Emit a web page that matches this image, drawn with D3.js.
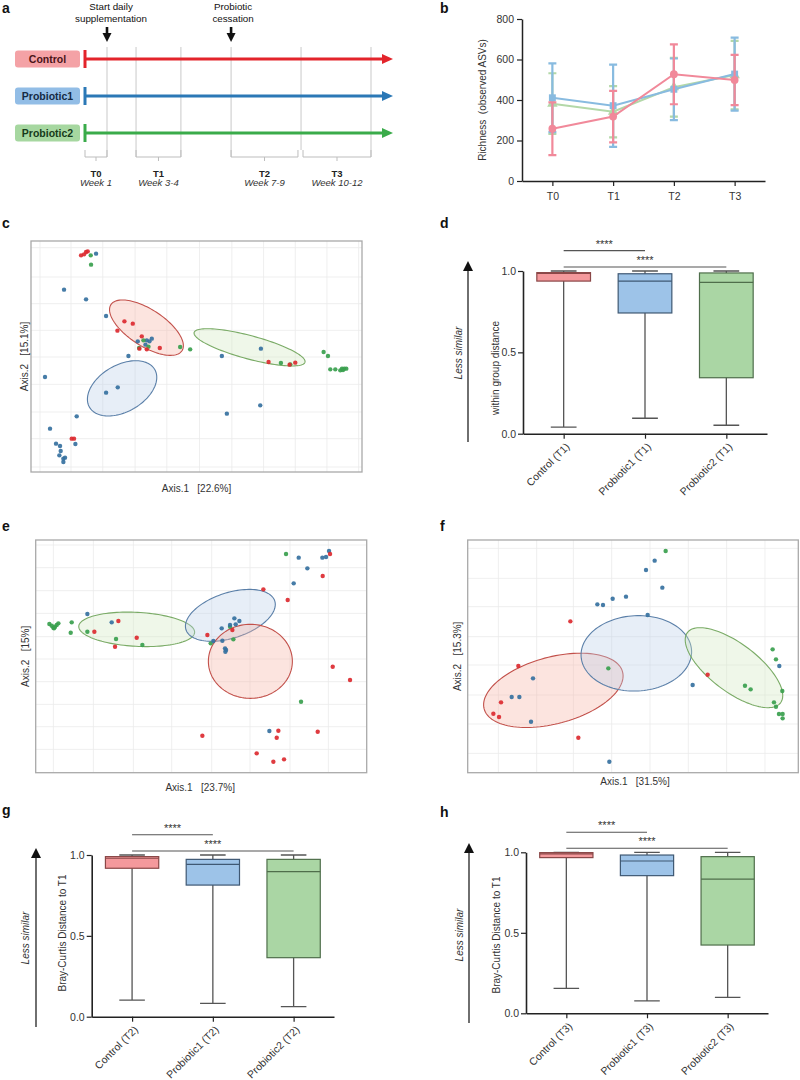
<!DOCTYPE html>
<html><head><meta charset="utf-8">
<script src="https://cdn.jsdelivr.net/npm/d3@7"></script>
<style>body{margin:0;background:#fff} svg{font-family:"Liberation Sans",Arial,sans-serif}</style>
</head><body><svg id="fig" width="800" height="1080"></svg>
<script>
// ================= DATA =================
// Panel a : study timeline (schematic, in weeks)
const tlGroups = ["Control", "Probiotic1", "Probiotic2"];
const periodLabels = ["T0", "T1", "T2", "T3"];
const periodWeeks = ["Week 1", "Week 3-4", "Week 7-9", "Week 10-12"];
const periodStart = [0, 2.32, 6.64, 9.91];
const periodEnd = [1, 4.36, 9.68, 13.0];
const guideWeeks = [1, 2.32, 4.36, 6.64, 9.82, 13.0];
const eventText = [["Start daily", "supplementation"], ["Probiotic", "cessation"]];
const eventWeek = [1, 6.64];

// Panel b : richness (observed ASVs), mean and SD
const timepoints = ["T0", "T1", "T2", "T3"];
const richTicks = [0, 200, 400, 600, 800];
const richControl = [258, 318, 527, 499];
const richControlSD = [130, 127, 148, 124];
const richP1 = [411, 372, 453, 528];
const richP1SD = [170, 203, 152, 180];
const richP2 = [382, 342, 463, 523];
const richP2SD = [150, 127, 145, 169];

// Panel c : PCoA (T1)
const cRed = [[-0.347,0.305],[-0.338,0.308],[-0.332,0.315],[-0.327,0.317],[-0.375,-0.245],[-0.368,-0.245],[-0.217,0.107],[-0.192,0.100],[-0.238,0.079],[-0.172,0.025],[-0.150,0.023],[-0.111,0.027],[-0.165,0.062],[0.215,-0.015],[0.278,-0.023],[0.295,-0.017]];
const cGreen = [[-0.318,0.305],[-0.317,0.277],[-0.173,0.027],[-0.145,0.031],[-0.050,0.030],[-0.020,0.023],[0.252,-0.018],[0.280,-0.022],[0.380,0.015],[0.393,0.003],[0.400,-0.037],[0.415,-0.037],[0.430,-0.040],[0.435,-0.035],[0.442,-0.035],[0.448,-0.035],[0.438,-0.039],[-0.160,0.050]];
const cBlue = [[-0.302,0.310],[-0.398,0.202],[-0.332,0.173],[-0.272,0.123],[-0.177,0.047],[-0.150,0.050],[-0.142,0.047],[-0.135,0.055],[-0.154,0.037],[-0.205,0.003],[-0.272,-0.107],[-0.237,-0.091],[-0.455,-0.060],[-0.360,-0.178],[-0.440,-0.215],[-0.422,-0.260],[-0.410,-0.267],[-0.408,-0.282],[-0.412,-0.295],[-0.400,-0.305],[-0.395,-0.302],[-0.400,-0.315],[-0.364,-0.261],[0.075,0.003],[0.090,-0.170],[0.190,-0.145],[0.192,0.025]];
// ellipses: [cx, cy, semi-major, semi-minor, angle(deg, counter-clockwise)]
const cEllRed = [-0.151, 0.088, 0.127, 0.055, -33];
const cEllGreen = [0.158, 0.029, 0.172, 0.035, -15];
const cEllBlue = [-0.224, -0.094, 0.113, 0.070, 30];
const cGridX = [-0.47,-0.377,-0.282,-0.185,-0.09,0.008,0.105,0.2,0.295,0.39,0.485];
const cGridY = [0.328,0.24,0.16,0.08,0,-0.082,-0.165,-0.245,-0.33];

// Panel e : PCoA (T2)
const eRed = [[-0.245,0.112],[-0.317,0.080],[-0.255,0.035],[-0.190,0.062],[0.022,0.070],[0.097,0.085],[0.190,0.207],[0.263,0.175],[0.368,0.247],[0.390,0.313],[0.398,-0.025],[0.450,-0.065],[0.007,-0.232],[0.235,-0.217],[0.230,-0.238],[0.353,-0.220],[0.170,-0.285],[0.220,-0.310],[0.252,-0.303]];
const eGreen = [[-0.452,0.103],[-0.445,0.098],[-0.440,0.092],[-0.435,0.095],[-0.430,0.100],[-0.425,0.105],[-0.438,0.090],[-0.385,0.108],[-0.388,0.077],[-0.338,0.080],[-0.252,0.058],[-0.173,0.040],[0.032,0.045],[0.090,0.095],[0.100,0.057],[0.258,0.313],[0.303,-0.130]];
const eBlue = [[-0.338,0.133],[-0.265,0.108],[0.065,0.090],[0.103,0.120],[0.118,0.112],[0.107,0.102],[0.090,0.100],[0.040,0.052],[0.067,0.053],[0.075,0.030],[0.078,0.025],[0.076,0.020],[0.296,0.302],[0.322,0.270],[0.281,0.225],[0.367,0.302],[0.378,0.304],[0.387,0.322],[0.208,-0.218]];
const eEllGreen = [-0.190, 0.087, 0.174, 0.051, -3];
const eEllBlue = [0.091, 0.129, 0.140, 0.068, 18];
const eEllRed = [0.151, -0.009, 0.126, 0.111, 0];
const eGridX = [-0.44,-0.32,-0.2,-0.085,0.035,0.15,0.27,0.385];
const eGridY = [0.34,0.272,0.203,0.135,0.065,-0.002,-0.07,-0.138,-0.205,-0.273];

// Panel f : PCoA (T3)
const fRed = [[-0.189,0.111],[-0.345,-0.023],[-0.397,-0.132],[-0.420,-0.166],[-0.403,-0.176],[-0.165,-0.238],[0.223,-0.049]];
const fGreen = [[0.097,0.322],[-0.075,-0.030],[0.418,0.027],[0.428,-0.003],[0.335,-0.082],[0.352,-0.093],[0.447,-0.098],[0.422,-0.132],[0.428,-0.145],[0.437,-0.167],[0.448,-0.167],[0.448,-0.180]];
const fBlue = [[0.038,0.265],[0.064,0.293],[0.087,0.212],[-0.062,0.179],[-0.022,0.185],[-0.108,0.162],[-0.091,0.160],[0.043,0.130],[0.178,-0.080],[0.438,-0.023],[-0.301,-0.060],[-0.365,-0.116],[-0.342,-0.116],[-0.307,-0.190],[-0.072,-0.310]];
const fEllRed = [-0.240, -0.096, 0.215, 0.100, 15];
const fEllBlue = [0.009, 0.015, 0.166, 0.113, 3];
const fEllGreen = [0.302, -0.028, 0.175, 0.072, -37];
const fGridX = [-0.405,-0.29,-0.18,-0.065,0.05,0.165,0.28,0.395];
const fGridY = [0.33,0.24,0.155,0.065,-0.02,-0.11,-0.197,-0.285];

// Box plots: [min, Q1, median, Q3, max]
const boxTicks = [0, 0.5, 1.0];
const dCats = ["Control (T1)", "Probiotic1 (T1)", "Probiotic2 (T1)"];
const dStats = [[0.04,0.938,0.985,0.99,1.0],[0.095,0.742,0.938,0.983,1.0],[0.052,0.344,0.93,0.988,1.0]];
const gCats = ["Control (T2)", "Probiotic1 (T2)", "Probiotic2 (T2)"];
const gStats = [[0.103,0.918,0.98,0.99,1.0],[0.082,0.814,0.942,0.973,1.0],[0.062,0.365,0.897,0.973,1.0]];
const hCats = ["Control (T3)", "Probiotic1 (T3)", "Probiotic2 (T3)"];
const hStats = [[0.155,0.967,0.99,0.998,1.0],[0.077,0.855,0.946,0.983,1.0],[0.099,0.424,0.834,0.973,1.0]];
const sigLabel = "****";

// ================= DRAWING =================
const svg = d3.select("#fig");

function panelLabel(t, x, y) {
  svg.append("text").attr("x", x).attr("y", y).attr("font-size", 14)
    .attr("font-weight", "bold").attr("fill", "#111").text(t);
}

// ---------- Panel a ----------
(function () {
  const g = svg.append("g");
  const tx = d3.scaleLinear().domain([0, 14]).range([85, 393]);
  const gy = d3.scalePoint().domain(tlGroups).range([59, 133]);
  const boxFill = ["#f4a2a6", "#92bde6", "#a6d7a0"];
  const lineCol = ["#e3242b", "#2b78b6", "#3aab4a"];
  const textCol = ["#4a1418", "#152a44", "#173a1a"];

  guideWeeks.forEach((w) => {
    g.append("line").attr("x1", tx(w)).attr("x2", tx(w)).attr("y1", 47)
      .attr("y2", Math.abs(w - 9.82) < 0.01 ? 150 : 157)
      .attr("stroke", "#c9c9c9").attr("stroke-width", 1);
  });
  periodLabels.forEach((p, i) => {
    const s = tx(periodStart[i]), e = tx(periodEnd[i]), m = (s + e) / 2;
    g.append("path").attr("d", `M${s},150V157H${e}V150M${m},157V161`)
      .attr("fill", "none").attr("stroke", "#bdbdbd").attr("stroke-width", 1);
    g.append("text").attr("x", m).attr("y", 176.5).attr("text-anchor", "middle")
      .attr("font-size", 9.5).attr("font-weight", "bold").attr("fill", "#222").text(p);
    g.append("text").attr("x", m).attr("y", 185.5).attr("text-anchor", "middle")
      .attr("font-size", 9.5).attr("font-style", "italic").attr("fill", "#333").text(periodWeeks[i]);
  });
  eventText.forEach((lines, i) => {
    const x = tx(eventWeek[i]);
    const cx = x + (i === 0 ? 4 : 2);
    lines.forEach((l, j) => {
      g.append("text").attr("x", cx).attr("y", 10 + j * 11.5).attr("text-anchor", "middle")
        .attr("font-size", 9.8).attr("fill", "#111").text(l);
    });
    g.append("line").attr("x1", x).attr("x2", x).attr("y1", 27).attr("y2", 35)
      .attr("stroke", "#111").attr("stroke-width", 2.6);
    g.append("path").attr("d", `M${x - 4.5},33L${x + 4.5},33L${x},42Z`).attr("fill", "#111");
  });
  tlGroups.forEach((grp, i) => {
    const y = gy(grp);
    g.append("rect").attr("x", 15).attr("y", y - 8.5).attr("width", 65).attr("height", 17)
      .attr("rx", 3).attr("fill", boxFill[i]);
    g.append("text").attr("x", 47.5).attr("y", y + 4).attr("text-anchor", "middle")
      .attr("font-size", 10.5).attr("font-weight", "bold").attr("fill", textCol[i]).text(grp);
    g.append("line").attr("x1", tx(0)).attr("x2", tx(14) - 8).attr("y1", y).attr("y2", y)
      .attr("stroke", lineCol[i]).attr("stroke-width", 3);
    g.append("line").attr("x1", tx(0)).attr("x2", tx(0)).attr("y1", y - 9).attr("y2", y + 9)
      .attr("stroke", lineCol[i]).attr("stroke-width", 3);
    g.append("path").attr("d", `M${tx(14) - 11},${y - 5}L${tx(14)},${y}L${tx(14) - 11},${y + 5}Z`)
      .attr("fill", lineCol[i]);
  });
})();
panelLabel("a", 2, 13);

// ---------- Panel b ----------
(function () {
  const g = svg.append("g");
  const x = d3.scalePoint().domain(timepoints).range([522, 765]).padding(0.5);
  const y = d3.scaleLinear().domain([0, 800]).range([181, 19]);
  const ax = g.append("g").attr("transform", "translate(0,181)")
    .call(d3.axisBottom(x).tickSize(5).tickPadding(7).tickSizeOuter(0));
  const ay = g.append("g").attr("transform", "translate(522,0)")
    .call(d3.axisLeft(y).tickValues(richTicks).tickSize(5).tickPadding(3).tickSizeOuter(0));
  [ax, ay].forEach(a => {
    a.select(".domain").attr("stroke", "#222").attr("stroke-width", 1.5);
    a.selectAll(".tick line").attr("stroke", "#222").attr("stroke-width", 1.2);
    a.selectAll("text").attr("font-size", 10.5).attr("fill", "#333").attr("font-family", '"Liberation Sans",Arial,sans-serif');
  });
  g.append("text").attr("transform", "translate(486,100) rotate(-90)").attr("text-anchor", "middle")
    .attr("font-size", 10).attr("fill", "#333").text("Richness\u00a0\u00a0(observed ASVs)");

  const series = [
    { m: richP2, sd: richP2SD, col: "#b3d8a8", shape: d3.symbolTriangle },
    { m: richP1, sd: richP1SD, col: "#88bbe0", shape: d3.symbolSquare },
    { m: richControl, sd: richControlSD, col: "#f1899a", shape: d3.symbolCircle }
  ];
  series.forEach(s => {
    const pts = timepoints.map((t, i) => [x(t), y(s.m[i])]);
    g.append("path").attr("d", d3.line()(pts)).attr("fill", "none")
      .attr("stroke", s.col).attr("stroke-width", 2);
    timepoints.forEach((t, i) => {
      const cx = x(t), lo = y(s.m[i] - s.sd[i]), hi = y(s.m[i] + s.sd[i]);
      g.append("path").attr("d", `M${cx},${lo}V${hi}M${cx - 4},${lo}H${cx + 4}M${cx - 4},${hi}H${cx + 4}`)
        .attr("stroke", s.col).attr("stroke-width", 2.2).attr("fill", "none");
      g.append("path").attr("d", d3.symbol().type(s.shape).size(48)())
        .attr("transform", `translate(${cx},${y(s.m[i])})`).attr("fill", s.col);
    });
  });
})();
panelLabel("b", 440, 13);

// ---------- Scatter panels ----------
function ellipsePts(e, x, y) {
  const [cx, cy, a, b, ang] = e;
  const p = ang * Math.PI / 180;
  return d3.range(0, 361, 3).map(t => {
    const r = t * Math.PI / 180;
    const dx = a * Math.cos(r) * Math.cos(p) - b * Math.sin(r) * Math.sin(p);
    const dy = a * Math.cos(r) * Math.sin(p) + b * Math.sin(r) * Math.cos(p);
    return [x(cx + dx), y(cy + dy)];
  });
}
function scatterPanel(o) {
  const g = svg.append("g");
  const x = d3.scaleLinear().domain(o.xDom).range([o.left, o.right]);
  const y = d3.scaleLinear().domain(o.yDom).range([o.bottom, o.top]);
  g.append("rect").attr("x", o.left).attr("y", o.top).attr("width", o.right - o.left)
    .attr("height", o.bottom - o.top).attr("fill", "#fff");
  o.gridX.forEach(v => g.append("line").attr("x1", x(v)).attr("x2", x(v)).attr("y1", o.top).attr("y2", o.bottom)
    .attr("stroke", "#ebebeb").attr("stroke-width", 0.8));
  o.gridY.forEach(v => g.append("line").attr("y1", y(v)).attr("y2", y(v)).attr("x1", o.left).attr("x2", o.right)
    .attr("stroke", "#ebebeb").attr("stroke-width", 0.8));
  const ellStyle = {
    red: { fill: "#f6b3a3", stroke: "#c2504a" },
    blue: { fill: "#b9cfe9", stroke: "#5a7fa8" },
    green: { fill: "#d2e7bf", stroke: "#7aab66" }
  };
  const line = d3.line().curve(d3.curveLinearClosed);
  o.ells.forEach(([key, e]) => {
    g.append("path").attr("d", line(ellipsePts(e, x, y)))
      .attr("fill", ellStyle[key].fill).attr("fill-opacity", 0.35)
      .attr("stroke", ellStyle[key].stroke).attr("stroke-width", 1.1);
  });
  const ptCol = { red: "#dc2a30", blue: "#36719f", green: "#3aa04e" };
  o.pts.forEach(([key, arr]) => {
    g.selectAll(null).data(arr).enter().append("circle")
      .attr("cx", d => x(d[0])).attr("cy", d => y(d[1])).attr("r", 2.2)
      .attr("fill", ptCol[key]).attr("fill-opacity", 0.92);
  });
  g.append("rect").attr("x", o.left).attr("y", o.top).attr("width", o.right - o.left)
    .attr("height", o.bottom - o.top).attr("fill", "none").attr("stroke", "#a9a9a9").attr("stroke-width", 1.3);
  g.append("text").attr("x", (o.left + o.right) / 2 + o.xlabDx).attr("y", o.xlabY).attr("text-anchor", "middle")
    .attr("font-size", 10).attr("fill", "#333").text(o.xlab);
  g.append("text").attr("transform", `translate(${o.ylabX},${(o.top + o.bottom) / 2}) rotate(-90)`)
    .attr("text-anchor", "middle").attr("font-size", 10).attr("fill", "#333").text(o.ylab);
}
scatterPanel({
  left: 31, right: 362, top: 241, bottom: 472, xDom: [-0.497, 0.495], yDom: [-0.345, 0.348],
  gridX: cGridX, gridY: cGridY,
  ells: [["blue", cEllBlue], ["red", cEllRed], ["green", cEllGreen]],
  pts: [["blue", cBlue], ["green", cGreen], ["red", cRed]],
  xlab: "Axis.1\u00a0\u00a0\u00a0[22.6%]", xlabY: 492, xlabDx: 0,
  ylab: "Axis.2\u00a0\u00a0\u00a0[15.1%]", ylabX: 28
});
panelLabel("c", 2, 228);
scatterPanel({
  left: 35.7, right: 366.7, top: 540, bottom: 772.7, xDom: [-0.493, 0.5], yDom: [-0.343, 0.355],
  gridX: eGridX, gridY: eGridY,
  ells: [["green", eEllGreen], ["blue", eEllBlue], ["red", eEllRed]],
  pts: [["green", eGreen], ["blue", eBlue], ["red", eRed]],
  xlab: "Axis.1\u00a0\u00a0\u00a0[23.7%]", xlabY: 791, xlabDx: -1,
  ylab: "Axis.2\u00a0\u00a0\u00a0[15%]", ylabX: 29
});
panelLabel("e", 2, 531);
scatterPanel({
  left: 467.7, right: 798.3, top: 540, bottom: 772.7, xDom: [-0.497, 0.495], yDom: [-0.343, 0.355],
  gridX: fGridX, gridY: fGridY,
  ells: [["red", fEllRed], ["blue", fEllBlue], ["green", fEllGreen]],
  pts: [["red", fRed], ["blue", fBlue], ["green", fGreen]],
  xlab: "Axis.1\u00a0\u00a0\u00a0[31.5%]", xlabY: 785, xlabDx: 2,
  ylab: "Axis.2\u00a0\u00a0\u00a0[15.3%]", ylabX: 461
});
panelLabel("f", 440, 531);

// ---------- Box plot panels ----------
function boxPanel(o) {
  const g = svg.append("g");
  const x = d3.scalePoint().domain(o.cats).range([o.left, o.right]).padding(0.5);
  const y = d3.scaleLinear().domain([0, 1]).range([o.bottom, o.top]);
  const bw = x.step() * 0.66, cw = bw * 0.48;
  const fills = ["#f4999c", "#9dc3e8", "#aad6a4"];
  const strokes = ["#8a4747", "#3f5873", "#4f6e4b"];
  o.stats.forEach((s, i) => {
    const cx = x(o.cats[i]);
    g.append("path").attr("d", `M${cx},${y(s[0])}V${y(s[4])}M${cx - cw / 2},${y(s[0])}H${cx + cw / 2}M${cx - cw / 2},${y(s[4])}H${cx + cw / 2}`)
      .attr("stroke", "#555").attr("stroke-width", 1.3).attr("fill", "none");
    g.append("rect").attr("x", cx - bw / 2).attr("y", y(s[3])).attr("width", bw)
      .attr("height", y(s[1]) - y(s[3])).attr("fill", fills[i]).attr("stroke", strokes[i]).attr("stroke-width", 1.2);
    g.append("line").attr("x1", cx - bw / 2).attr("x2", cx + bw / 2).attr("y1", y(s[2])).attr("y2", y(s[2]))
      .attr("stroke", strokes[i]).attr("stroke-width", 1.2);
  });
  const ax = g.append("g").attr("transform", `translate(0,${o.bottom})`)
    .call(d3.axisBottom(x).tickSize(5).tickFormat("").tickSizeOuter(0));
  const ay = g.append("g").attr("transform", `translate(${o.left},0)`)
    .call(d3.axisLeft(y).tickValues(boxTicks).tickFormat(d3.format(".1f")).tickSize(5).tickPadding(2).tickSizeOuter(0));
  [ax, ay].forEach(a => {
    a.select(".domain").attr("stroke", "#222").attr("stroke-width", 1.6);
    a.selectAll(".tick line").attr("stroke", "#222").attr("stroke-width", 1.2);
    a.selectAll("text").attr("font-size", 10.5).attr("fill", "#333").attr("font-family", '"Liberation Sans",Arial,sans-serif');
  });
  o.cats.forEach(c => {
    g.append("text").attr("transform", `translate(${x(c) + 4},${o.bottom + 11}) rotate(-45)`)
      .attr("text-anchor", "end").attr("dy", "0.35em").attr("font-size", 10.5).attr("fill", "#333").text(c);
  });
  [[1, 1.125], [2, 1.025]].forEach(([j, v]) => {
    const x1 = x(o.cats[0]), x2 = x(o.cats[j]);
    g.append("line").attr("x1", x1).attr("x2", x2).attr("y1", y(v)).attr("y2", y(v))
      .attr("stroke", "#555").attr("stroke-width", 1.1);
    g.append("text").attr("x", (x1 + x2) / 2).attr("y", y(v) - 3).attr("text-anchor", "middle")
      .attr("font-size", 11).attr("fill", "#333").text(sigLabel);
  });
  g.append("text").attr("transform", `translate(${o.ylabX},${o.ylabY}) rotate(-90)`).attr("text-anchor", "middle")
    .attr("font-size", 10).attr("fill", "#333").text(o.ylab);
  g.append("text").attr("transform", `translate(${o.lessX},${o.lessY}) rotate(-90)`).attr("text-anchor", "middle")
    .attr("font-size", 10).attr("font-style", "italic").attr("fill", "#333").text("Less similar");
  g.append("line").attr("x1", o.arrX).attr("x2", o.arrX).attr("y1", o.arrB).attr("y2", o.arrT + 8)
    .attr("stroke", "#222").attr("stroke-width", 1.3);
  g.append("path").attr("d", `M${o.arrX - 5},${o.arrT + 10}L${o.arrX + 5},${o.arrT + 10}L${o.arrX},${o.arrT}Z`).attr("fill", "#111");
}
boxPanel({
  cats: dCats, stats: dStats, left: 523, right: 767, top: 271, bottom: 433.7,
  ylab: "within group distance", ylabX: 499, ylabY: 368,
  lessX: 462, lessY: 353, arrX: 468, arrT: 261, arrB: 442
});
panelLabel("d", 440, 228);
boxPanel({
  cats: gCats, stats: gStats, left: 91.7, right: 334, top: 855, bottom: 1016.7,
  ylab: "Bray-Curtis Distance to T1", ylabX: 66, ylabY: 933,
  lessX: 29, lessY: 938, arrX: 36, arrT: 848, arrB: 1027
});
panelLabel("g", 2, 815);
boxPanel({
  cats: hCats, stats: hStats, left: 526, right: 768, top: 852.3, bottom: 1013.3,
  ylab: "Bray-Curtis Distance to T1", ylabX: 500, ylabY: 935,
  lessX: 463, lessY: 935, arrX: 469, arrT: 843, arrB: 1023
});
panelLabel("h", 440, 817);
</script></body></html>
